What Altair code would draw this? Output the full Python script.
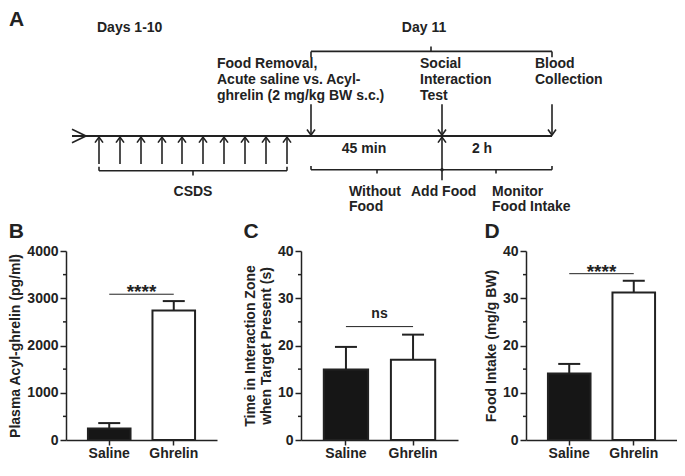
import altair as alt
import pandas as pd

FONT = "Liberation Sans"
INK = "#222222"

# ---------------- Panel A : experimental timeline (schematic units) ----------------
csds_x = [90, 111, 132, 153, 173, 194, 215, 236, 257, 278]   # CSDS days 1-10
day11_down_x = [302, 433, 543]                                # food removal, SIT, blood
add_food_x = [433]

# line segments of the schematic: x, y, x2, y2, stroke width
segments = [
    (63, 131, 543, 131, 2.0),            # main time axis
    (63, 124, 77, 131, 1.6), (63, 138, 77, 131, 1.6),   # start chevron
    (90, 167, 278, 167, 1.6), (90, 163, 90, 167, 1.6), (278, 163, 278, 167, 1.6), (184, 167, 184, 172, 1.6),  # CSDS bracket
    (302, 43, 543, 43, 1.6), (302, 43, 302, 49, 1.6), (543, 43, 543, 49, 1.6), (422, 38, 422, 43, 1.6),       # Day 11 bracket
    (302, 166, 543, 166, 1.6), (302, 162, 302, 166, 1.6), (543, 162, 543, 166, 1.6),
    (368, 166, 368, 170, 1.6), (487, 166, 487, 170, 1.6),                                                     # lower bracket
]
segments += [(x, 160, x, 132, 1.6) for x in csds_x]
segments += [(x, 98, x, 130, 1.6) for x in day11_down_x]
segments += [(x, 177, x, 132, 1.6) for x in add_food_x]

left_texts = [
    ("Days 1-10", 88, 19),
    ("Food Removal,", 208, 56), ("Acute saline vs. Acyl-", 208, 73), ("ghrelin (2 mg/kg BW s.c.)", 208, 89),
    ("Social", 411, 56), ("Interaction", 411, 73), ("Test", 411, 89),
    ("Blood", 526, 56), ("Collection", 526, 73),
    ("Without", 340, 189), ("Food", 340, 205),
    ("Add Food", 402, 189),
    ("Monitor", 483, 189), ("Food Intake", 483, 205),
]
center_texts = [("Day 11", 415, 19), ("45 min", 355, 144), ("2 h", 473, 144), ("CSDS", 184, 189)]

seg_df = pd.DataFrame(segments, columns=["x", "y", "x2", "y2", "w"])
up_df = pd.DataFrame({"x": csds_x + add_food_x, "y": [132] * (len(csds_x) + len(add_food_x))})
down_df = pd.DataFrame({"x": day11_down_x, "y": [130] * len(day11_down_x)})
dot_df = pd.DataFrame({"x": [433], "y": [166]})
lt_df = pd.DataFrame(left_texts, columns=["t", "x", "y"])
ct_df = pd.DataFrame(center_texts, columns=["t", "x", "y"])
letter_df = pd.DataFrame({"t": ["A"], "x": [0], "y": [10]})

XS = alt.Scale(domain=[57, 657], nice=False, zero=False)
YS = alt.Scale(domain=[0, 212], nice=False, zero=False, reverse=True)


def X(f):
    return alt.X(f, scale=XS, axis=None)


def Y(f):
    return alt.Y(f, scale=YS, axis=None)


segs = alt.Chart(seg_df).mark_rule(color=INK).encode(
    x=X("x:Q"), y=Y("y:Q"), x2="x2:Q", y2="y2:Q", strokeWidth=alt.StrokeWidth("w:Q", scale=None)
)
ups = alt.Chart(up_df).mark_point(shape="M-1,1.4L0,0L1,1.4", size=64, color=INK, strokeWidth=1.6, opacity=1).encode(
    x=X("x:Q"), y=Y("y:Q")
)
downs = alt.Chart(down_df).mark_point(shape="M-1,-1.4L0,0L1,-1.4", size=64, color=INK, strokeWidth=1.6, opacity=1).encode(
    x=X("x:Q"), y=Y("y:Q")
)
dot = alt.Chart(dot_df).mark_point(filled=True, size=12, color=INK, opacity=1).encode(x=X("x:Q"), y=Y("y:Q"))
ltxt = alt.Chart(lt_df).mark_text(align="left", baseline="middle", font=FONT, fontSize=14, fontWeight="bold", color=INK).encode(
    x=X("x:Q"), y=Y("y:Q"), text="t:N"
)
ctxt = alt.Chart(ct_df).mark_text(align="center", baseline="middle", font=FONT, fontSize=14, fontWeight="bold", color=INK).encode(
    x=X("x:Q"), y=Y("y:Q"), text="t:N"
)
letter = alt.Chart(letter_df).mark_text(align="left", baseline="middle", font=FONT, fontSize=21, fontWeight="bold", color=INK).encode(
    x=X("x:Q"), y=Y("y:Q"), text="t:N"
)
panel_a = alt.layer(segs, ups, downs, dot, ltxt, ctxt, letter).properties(width=600, height=204)

# ---------------- Panels B-D : bar charts (mean + SEM) ----------------
groups = ["Saline", "Ghrelin"]
acyl_mean = [242, 2740]
acyl_sem = [116, 200]
sit_mean = [14.9, 17.0]
sit_sem = [4.8, 5.3]
food_mean = [14.1, 31.2]
food_sem = [2.0, 2.5]


def bar_panel(letter, means, sems, ytitle, domain, ticks, minor, sig_y, sig_text, sig_size, sig_dy, width, height):
    df = pd.DataFrame({"group": groups, "mean": means, "top": [m + s for m, s in zip(means, sems)]})
    xs = alt.Scale(domain=groups, paddingInner=0.34, paddingOuter=0.34)
    xa = alt.Axis(title=None, labelAngle=0, tickSize=5, labelPadding=1)
    ys = alt.Scale(domain=domain, nice=False, zero=True)
    ya = alt.Axis(title=ytitle, values=ticks, format="d", tickSize=6, labelPadding=2, titlePadding=4)

    def xx(f="group:N"):
        return alt.X(f, scale=xs, axis=xa, sort=groups)

    def yy(f):
        return alt.Y(f, scale=ys, axis=ya)

    bars = alt.Chart(df).mark_bar(stroke=INK, strokeWidth=2).encode(
        x=xx(), y=yy("mean:Q"),
        fill=alt.Fill("group:N", scale=alt.Scale(domain=groups, range=["#161616", "#ffffff"]), legend=None),
    )
    err = alt.Chart(df).mark_rule(color=INK, strokeWidth=2).encode(x=xx(), y=yy("mean:Q"), y2="top:Q")
    cap = alt.Chart(df).mark_tick(color=INK, thickness=2, size=22, opacity=1).encode(x=xx(), y=yy("top:Q"))
    mdf = pd.DataFrame({"v": minor})
    mticks = alt.Chart(mdf).mark_rule(color=INK, strokeWidth=1.5).encode(
        x=alt.value(-3), x2=alt.value(0), y=yy("v:Q")
    )
    sdf = pd.DataFrame({"group": [groups[0]], "group2": [groups[1]], "y": [sig_y], "t": [sig_text]})
    sline = alt.Chart(sdf).mark_rule(color=INK, strokeWidth=1).encode(x=xx(), x2="group2:N", y=yy("y:Q"))
    stext = alt.Chart(sdf).mark_text(align="center", baseline="alphabetic", dy=sig_dy, font=FONT, fontSize=sig_size,
                                     fontWeight="bold", color=INK).encode(
        x=alt.value(width / 2), y=yy("y:Q"), text="t:N"
    )
    return alt.layer(bars, err, cap, mticks, sline, stext).properties(
        width=width, height=height,
        title=alt.TitleParams(letter, anchor="start", fontSize=21, fontWeight="bold", font=FONT, color=INK, offset=2),
    )


H = 189
panel_b = bar_panel("B", acyl_mean, acyl_sem, "Plasma Acyl-ghrelin (pg/ml)", [0, 4000], [0, 1000, 2000, 3000, 4000],
                    [500, 1500, 2500, 3500], 3085, "****", 19, 4, 151, H)
panel_c = bar_panel("C", sit_mean, sit_sem, ["Time in Interaction Zone", "when Target Present (s)"], [0, 40],
                    [0, 10, 20, 30, 40], [5, 15, 25, 35], 24, "ns", 14, -9, 157, H)
panel_d = bar_panel("D", food_mean, food_sem, "Food Intake (mg/g BW)", [0, 40], [0, 10, 20, 30, 40],
                    [5, 15, 25, 35], 35.2, "****", 19, 4, 151, H)

bottom = alt.hconcat(panel_b, panel_c, panel_d, spacing=26)

chart = alt.vconcat(panel_a, bottom, spacing=6).properties(
    padding={"left": 0, "top": 0, "right": 0, "bottom": 0}
).configure_view(stroke=None).configure_axis(
    grid=False, domainColor=INK, domainWidth=1.5, tickColor=INK, tickWidth=1.5,
    labelFont=FONT, labelFontSize=14, labelFontWeight="bold", labelColor=INK,
    titleFont=FONT, titleFontSize=14, titleFontWeight="bold", titleColor=INK, titleLineHeight=16,
).configure_text(font=FONT)

chart.save("out.html", embed_options={"renderer": "svg", "actions": False})
